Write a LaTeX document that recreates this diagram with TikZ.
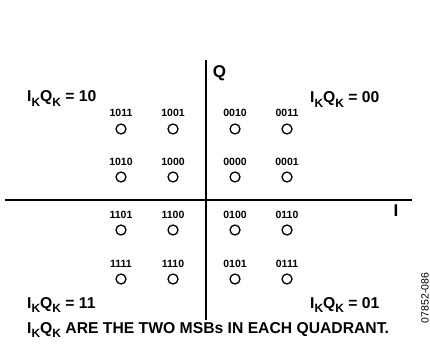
\documentclass[tikz,border=0pt]{standalone}
\usepackage{fontspec}
\setmainfont{Liberation Sans}
\newcommand{\subK}{\raisebox{-0.28em}{\fontsize{12}{12}\selectfont K}}
\newcommand{\IQ}{I\subK Q\subK}
\begin{document}
\begin{tikzpicture}[x=1pt,y=-1pt,
  axis/.style={line width=1.6pt},
  pt/.style={circle,draw,line width=1.3pt,minimum size=10pt,inner sep=0pt},
  code/.style={font=\bfseries\fontsize{10.5}{11}\selectfont,inner sep=0pt},
  quad/.style={font=\bfseries\fontsize{15.7}{16}\selectfont,inner sep=0pt,anchor=west},
  axlab/.style={font=\bfseries\fontsize{17}{18}\selectfont,inner sep=0pt}]
\useasboundingbox (0,0) rectangle (430,358);
\coordinate (vt) at (206,60);
\coordinate (vb) at (206,320);
\coordinate (hl) at (5,200);
\coordinate (hr) at (412,200);
\draw[axis] (vt) -- (vb);
\draw[axis] (hl) -- (hr);
\node[axlab] (Q) at (219.5,73) {Q};
\node[axlab] (I) at (396,211) {I};
% points
\foreach \x/\y/\c/\n in {121/129/1011/a,173/129/1001/b,235/129/0010/c,287/129/0011/d,
  121/177/1010/e,173/177/1000/f,235/177/0000/g,287/177/0001/h,
  121/230/1101/i,173/230/1100/j,235/230/0100/k,287/230/0110/l,
  121/279/1111/m,173/279/1110/n,235/279/0101/o,287/279/0111/p}{
  \node[pt] (p\n) at (\x,\y) {};
  \node[code,anchor=base] (l\n) at (\x,\y-12) {\c};
}
\node[quad,anchor=base west] (q10) at (27,102) {\IQ{} = 10};
\node[quad,anchor=base west] (q00) at (310,103) {\IQ{} = 00};
\node[quad,anchor=base west] (q11) at (27,308) {\IQ{} = 11};
\node[quad,anchor=base west] (q01) at (310,308) {\IQ{} = 01};
\node[quad,anchor=base west] (note) at (27,333) {\IQ{} ARE THE TWO MSBs IN EACH QUADRANT.};
\node[font=\fontsize{10.5}{11}\selectfont,rotate=90,inner sep=0pt] (fig) at (425,298) {07852-086};
\end{tikzpicture}
\end{document}
